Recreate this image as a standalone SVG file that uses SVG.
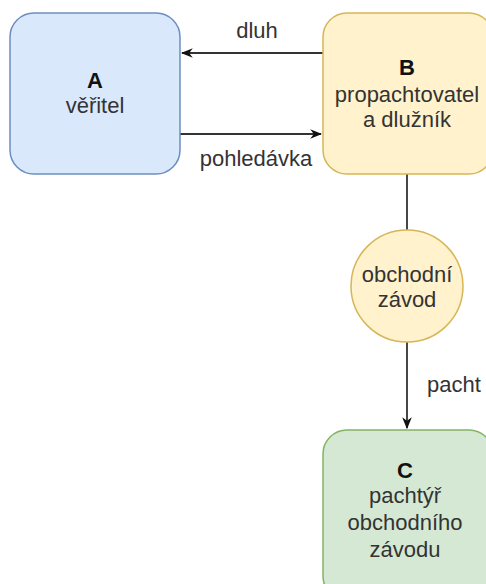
<svg xmlns="http://www.w3.org/2000/svg" width="486" height="584" viewBox="0 0 486 584">
<defs>
<marker id="arr" viewBox="0 0 10 10" refX="9" refY="5" markerWidth="12" markerHeight="12" markerUnits="userSpaceOnUse" orient="auto">
<path d="M0,1 L10,5 L0,9 L3,5 Z" fill="#111"/>
</marker>
<style>
text{font-family:"Liberation Sans",Arial,sans-serif;font-size:22px;fill:#333;text-anchor:middle}
.b{font-weight:bold;fill:#111}
.lbl{fill:#333}
.c{fill:none;stroke:#333;stroke-width:1.8}
</style>
</defs>
<rect width="486" height="584" fill="#fff"/>
<g id="connectors">
<line class="c" x1="323" y1="53" x2="182" y2="53" marker-end="url(#arr)"/>
<line class="c" x1="180" y1="134" x2="321" y2="134" marker-end="url(#arr)"/>
<line class="c" x1="407" y1="174" x2="407" y2="230"/>
<line class="c" x1="407" y1="342" x2="407" y2="428" marker-end="url(#arr)"/>
<text class="lbl" x="257" y="38">dluh</text>
<text class="lbl" x="256" y="166">pohledávka</text>
<text class="lbl" x="454" y="392">pacht</text>
</g>
<g id="nodeA">
<rect x="10" y="13" width="170" height="161" rx="24" fill="#dae8fc" stroke="#6c8ebf" stroke-width="1.5"/>
<text class="b" x="95" y="88">A</text>
<text x="95" y="113">věřitel</text>
</g>
<g id="nodeB">
<rect x="323" y="13" width="170" height="161" rx="24" fill="#fff2cc" stroke="#d6b656" stroke-width="1.5"/>
<text class="b" x="407" y="75">B</text>
<text x="407" y="102">propachtovatel</text>
<text x="407" y="127">a dlužník</text>
</g>
<g id="nodeZ">
<circle cx="407" cy="286" r="56" fill="#fff2cc" stroke="#d6b656" stroke-width="1.5"/>
<text x="407" y="282">obchodní</text>
<text x="407" y="307">závod</text>
</g>
<g id="nodeC">
<rect x="323" y="430" width="170" height="170" rx="24" fill="#d5e8d4" stroke="#82b366" stroke-width="1.5"/>
<text class="b" x="405" y="478">C</text>
<text x="405" y="503">pachtýř</text>
<text x="405" y="530">obchodního</text>
<text x="405" y="557">závodu</text>
</g>
</svg>
